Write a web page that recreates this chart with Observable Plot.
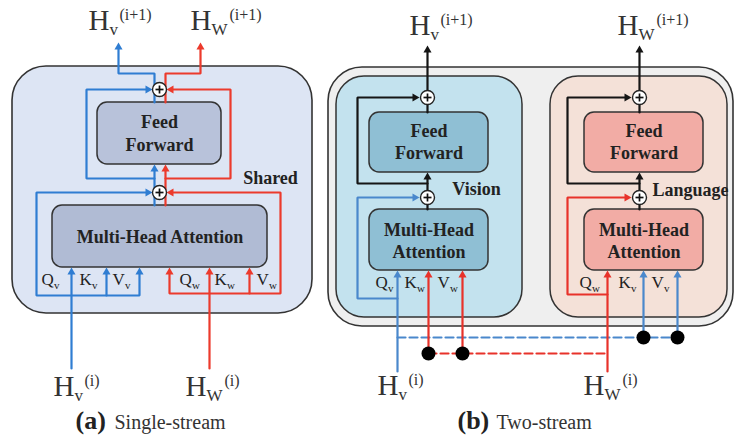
<!DOCTYPE html>
<html><head><meta charset="utf-8">
<script src="https://cdn.jsdelivr.net/npm/d3@7"></script>
<script src="https://cdn.jsdelivr.net/npm/@observablehq/plot@0.6"></script>
<style>body{margin:0;background:#fff} svg{display:block}</style>
</head><body><div id="chart"></div>
<script>
const W = 736, H = 437;
const BLUE_A = "#2f7dd2", RED_A = "#ec3a2c", BLUE_B = "#4a88cc", RED_B = "#e8322a", BLACK = "#151515";
const SERIF = "Liberation Serif, DejaVu Serif, serif";

// outer containers (a) shared, (b) two-stream + vision + language
const panels = [
  {x1: 12, y1: 66, x2: 312, y2: 313, fill: "#dde5f4"},
  {x1: 328, y1: 67, x2: 733, y2: 326, fill: "#efefef"}
];
const streams = [
  {x1: 336, y1: 76, x2: 522, y2: 317, fill: "#c3e2ee"},
  {x1: 550, y1: 76, x2: 727, y2: 317, fill: "#f4e1d8"}
];
const blocks = [
  {x1: 97, y1: 102, x2: 221, y2: 164, fill: "#b8c2da"},
  {x1: 52, y1: 205, x2: 267, y2: 267, fill: "#b0bbd4"},
  {x1: 369, y1: 112, x2: 488, y2: 172, fill: "#8fbfd4"},
  {x1: 369, y1: 209, x2: 488, y2: 270, fill: "#8fbfd4"},
  {x1: 584, y1: 112, x2: 703, y2: 172, fill: "#f2aca5"},
  {x1: 584, y1: 209, x2: 703, y2: 270, fill: "#f2aca5"}
];
const blockText = [
  {x: 159, y: 122, t: "Feed"}, {x: 159, y: 145, t: "Forward"},
  {x: 159.5, y: 237, t: "Multi-Head Attention"},
  {x: 428.5, y: 131, t: "Feed"}, {x: 428.5, y: 153, t: "Forward"},
  {x: 428.5, y: 230, t: "Multi-Head"}, {x: 428.5, y: 252, t: "Attention"},
  {x: 643.5, y: 131, t: "Feed"}, {x: 643.5, y: 153, t: "Forward"},
  {x: 643.5, y: 230, t: "Multi-Head"}, {x: 643.5, y: 252, t: "Attention"}
];
const tags = [
  {x: 270, y: 178, t: "Shared"},
  {x: 476, y: 189, t: "Vision"},
  {x: 690, y: 190, t: "Language"}
];
// residual "+" nodes
const adders = [
  {x: 159, y: 89}, {x: 159, y: 192},
  {x: 427, y: 97}, {x: 427, y: 197},
  {x: 639, y: 97}, {x: 639, y: 197}
];
// junction dots (co-attention exchange)
const junctions = [
  {x: 643, y: 337}, {x: 677, y: 337}, {x: 428, y: 353}, {x: 462, y: 353}
];
// connectors: a0 = arrow at first point, a1 = arrow at last point
const paths = [
  // (a) single-stream
  {c: BLUE_A, a1: 1, pts: [[154,102],[154,73],[118,73],[118,42]]},
  {c: RED_A,  a1: 1, pts: [[165,102],[165,73],[200,73],[200,42]]},
  {c: BLUE_A, a0: 1, pts: [[152,89],[86,89],[86,178],[154,178]]},
  {c: RED_A,  a0: 1, pts: [[166,89],[230,89],[230,178],[165,178]]},
  {c: BLUE_A, a1: 1, pts: [[154,205],[154,164]]},
  {c: RED_A,  a1: 1, pts: [[165,205],[165,164]]},
  {c: BLUE_A, a0: 1, a1: 1, pts: [[152,192],[36,192],[36,295],[139,295],[139,267]]},
  {c: BLUE_A, a1: 1, pts: [[106,295],[106,267]]},
  {c: BLUE_A, a1: 1, pts: [[71,368],[71,267]]},
  {c: RED_A,  a0: 1, a1: 1, pts: [[166,192],[280,192],[280,293],[169,293],[169,267]]},
  {c: RED_A,  a1: 1, pts: [[249,293],[249,267]]},
  {c: RED_A,  a1: 1, pts: [[209,368],[209,267]]},
  // (b) vision stream
  {c: BLACK, a1: 1, pts: [[427,112],[427,45]]},
  {c: BLACK, a0: 1, pts: [[419,97],[357,97],[357,183],[427,183]]},
  {c: BLACK, a1: 1, pts: [[427,209],[427,172]]},
  {c: BLUE_B, a0: 1, pts: [[419,197],[357,197],[357,298],[397,298]]},
  {c: BLUE_B, a1: 1, pts: [[397,371],[397,270]]},
  {c: RED_B, a1: 1, pts: [[428,353],[428,270]]},
  {c: RED_B, a1: 1, pts: [[462,353],[462,270]]},
  // (b) language stream
  {c: BLACK, a1: 1, pts: [[639,112],[639,45]]},
  {c: BLACK, a0: 1, pts: [[631,97],[567,97],[567,183],[639,183]]},
  {c: BLACK, a1: 1, pts: [[639,209],[639,172]]},
  {c: RED_B, a0: 1, pts: [[631,197],[567,197],[567,294],[607,294]]},
  {c: RED_B, a1: 1, pts: [[607,371],[607,270]]},
  {c: BLUE_B, a1: 1, pts: [[643,337],[643,270]]},
  {c: BLUE_B, a1: 1, pts: [[677,337],[677,270]]}
];
const dashed = [
  {c: BLUE_B, pts: [[397,337],[677,337]]},
  {c: RED_B, pts: [[428,353],[607,353]]}
];
// input labels at the attention block
const qkv = [
  {x: 41, y: 284, t: "Q", s: "v"}, {x: 79, y: 284, t: "K", s: "v"}, {x: 112, y: 284, t: "V", s: "v"},
  {x: 179, y: 284, t: "Q", s: "w"}, {x: 214, y: 284, t: "K", s: "w"}, {x: 256, y: 284, t: "V", s: "w"},
  {x: 375, y: 287, t: "Q", s: "v"}, {x: 404, y: 287, t: "K", s: "w"}, {x: 437, y: 287, t: "V", s: "w"},
  {x: 579, y: 287, t: "Q", s: "w"}, {x: 618, y: 287, t: "K", s: "v"}, {x: 651, y: 287, t: "V", s: "v"}
];
// hidden-state labels
const hLabels = [
  {x: 88, y: 29, s: "v", p: "(i+1)"}, {x: 190, y: 29, s: "W", p: "(i+1)"},
  {x: 53, y: 395, s: "v", p: "(i)"}, {x: 185, y: 395, s: "W", p: "(i)"},
  {x: 409, y: 34, s: "v", p: "(i+1)"}, {x: 617, y: 34, s: "W", p: "(i+1)"},
  {x: 377, y: 394, s: "v", p: "(i)"}, {x: 583, y: 394, s: "W", p: "(i)"}
];
const captions = [
  {x: 75, y: 428, tag: "(a)", name: "Single-stream"},
  {x: 457, y: 428, tag: "(b)", name: "Two-stream"}
];

// ---- derived geometry for lines and arrowheads ----
const HEAD_R = 3;
const halfY = Math.sqrt(Math.PI * HEAD_R * HEAD_R / (3 * Math.sqrt(3)));
const TIP = 2 * halfY;
const segs = [], heads = [];
function head(tip, from, c) {
  const dx = tip[0] - from[0], dy = tip[1] - from[1];
  const L = Math.hypot(dx, dy), ux = dx / L, uy = dy / L;
  heads.push({x: tip[0] - ux * TIP, y: tip[1] - uy * TIP, rot: Math.atan2(ux, -uy) * 180 / Math.PI, c});
  return [tip[0] - ux * TIP * 1.2, tip[1] - uy * TIP * 1.2];
}
paths.forEach((p, i) => {
  const pts = p.pts.map(q => q.slice());
  if (p.a0) pts[0] = head(p.pts[0], p.pts[1], p.c);
  if (p.a1) { const n = pts.length; pts[n - 1] = head(p.pts[n - 1], p.pts[n - 2], p.c); }
  pts.forEach(q => segs.push({id: i, x: q[0], y: q[1], c: p.c}));
});
const dsegs = [];
dashed.forEach((p, i) => p.pts.forEach(q => dsegs.push({id: i, x: q[0], y: q[1], c: p.c})));

const subs = [], sups = [], hs = [];
hLabels.forEach(d => {
  hs.push({x: d.x, y: d.y, t: "H"});
  subs.push({x: d.x + 21, y: d.y + 5, t: d.s});
  sups.push({x: d.x + (d.s === "W" ? 39 : 31), y: d.y - 10, t: d.p});
});

const chart = Plot.plot({
  width: W, height: H, margin: 0,
  x: {domain: [0, W], range: [0, W], axis: null},
  y: {domain: [0, H], range: [0, H], axis: null},
  color: {type: "identity"},
  style: {background: "white"},
  marks: [
    Plot.rect(panels, {x1: "x1", y1: "y1", x2: "x2", y2: "y2", fill: "fill", stroke: "#333", strokeWidth: 1.6, rx: 34, ry: 34}),
    Plot.rect(streams, {x1: "x1", y1: "y1", x2: "x2", y2: "y2", fill: "fill", stroke: "#333", strokeWidth: 1.5, rx: 28, ry: 28}),
    Plot.rect(blocks, {x1: "x1", y1: "y1", x2: "x2", y2: "y2", fill: "fill", stroke: "#333", strokeWidth: 1.5, rx: 10, ry: 10}),
    Plot.line(dsegs, {x: "x", y: "y", z: "id", stroke: "c", strokeWidth: 2.2, strokeDasharray: "8,4", curve: "linear"}),
    Plot.line(segs, {x: "x", y: "y", z: "id", stroke: "c", strokeWidth: 2.2, curve: "linear", strokeLinejoin: "miter"}),
    Plot.dot(heads, {x: "x", y: "y", symbol: "triangle", r: HEAD_R, rotate: "rot", fill: "c", stroke: null}),
    Plot.dot(adders, {x: "x", y: "y", r: 7, fill: "white", stroke: "#222", strokeWidth: 1.4}),
    Plot.link(adders, {x1: d => d.x - 4, x2: d => d.x + 4, y1: "y", y2: "y", stroke: "#111", strokeWidth: 1.7}),
    Plot.link(adders, {x1: "x", x2: "x", y1: d => d.y - 4, y2: d => d.y + 4, stroke: "#111", strokeWidth: 1.7}),
    Plot.dot(junctions, {x: "x", y: "y", r: 7, fill: "#000"}),
    Plot.text(blockText, {x: "x", y: "y", text: "t", fontFamily: SERIF, fontWeight: "bold", fontSize: 18, fill: "#222"}),
    Plot.text(tags, {x: "x", y: "y", text: "t", fontFamily: SERIF, fontWeight: "bold", fontSize: 18, fill: "#222"}),
    Plot.text(qkv, {x: "x", y: "y", text: "t", fontFamily: SERIF, fontSize: 17, textAnchor: "start", lineAnchor: "bottom", fill: "#222"}),
    Plot.text(qkv, {x: d => d.x + 12.5, y: d => d.y + 4, text: "s", fontFamily: SERIF, fontSize: 11, textAnchor: "start", lineAnchor: "bottom", fill: "#222"}),
    Plot.text(hs, {x: "x", y: "y", text: "t", fontFamily: SERIF, fontSize: 29, textAnchor: "start", lineAnchor: "bottom", fill: "#333"}),
    Plot.text(subs, {x: "x", y: "y", text: "t", fontFamily: SERIF, fontSize: 17, textAnchor: "start", lineAnchor: "bottom", fill: "#333"}),
    Plot.text(sups, {x: "x", y: "y", text: "t", fontFamily: SERIF, fontSize: 16, textAnchor: "start", lineAnchor: "bottom", fill: "#333"}),
    Plot.text(captions, {x: "x", y: "y", text: "tag", fontFamily: SERIF, fontWeight: "bold", fontSize: 26, textAnchor: "start", lineAnchor: "bottom", fill: "#222"}),
    Plot.text(captions, {x: d => d.x + 39, y: "y", text: "name", fontFamily: SERIF, fontSize: 20, textAnchor: "start", lineAnchor: "bottom", fill: "#333"})
  ]
});
document.getElementById("chart").appendChild(chart);
</script>
</body></html>
